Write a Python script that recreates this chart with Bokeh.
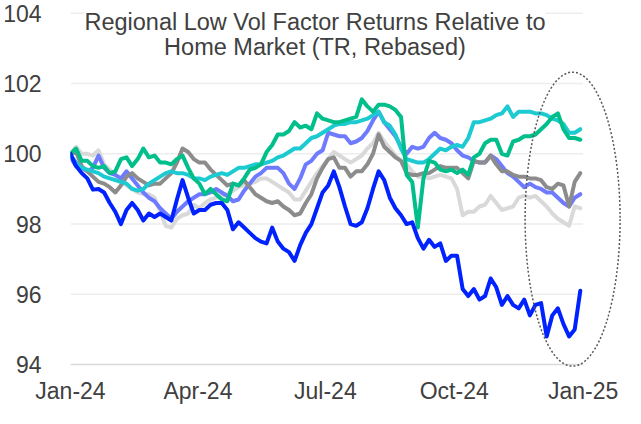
import pandas as pd
from bokeh.plotting import figure
from bokeh.models import (ColumnDataSource, FixedTicker, DatetimeTickFormatter,
                          Range1d, Label)
from bokeh.embed import file_html
from bokeh.resources import INLINE

# ---------------- data ----------------
DATES = pd.date_range("2024-01-01", periods=92, freq="4D")

DARK_BLUE = [100.0, 99.65, 99.45, 99.3, 98.98, 99.0, 98.9, 98.6, 98.35, 98.0,
             98.4, 98.6, 98.4, 98.1, 98.3, 98.2, 98.3, 98.2, 98.1, 98.7,
             99.25, 98.75, 98.3, 98.4, 98.4, 98.55, 98.6, 98.6, 98.4, 97.85,
             98.05, 97.9, 97.75, 97.6, 97.5, 97.45, 97.9, 97.5, 97.3, 97.2,
             96.95, 97.4, 97.75, 98.0, 98.45, 98.9, 99.1, 99.5, 99.05, 98.5,
             98.0, 97.95, 98.05, 98.45, 99.0, 99.5, 99.25, 98.75, 98.45, 98.25,
             98.0, 98.05, 97.6, 97.3, 97.55, 97.35, 97.45, 96.95, 97.1, 97.1,
             96.15, 95.95, 96.15, 95.85, 95.95, 96.45, 96.2, 95.7, 95.95, 95.7,
             95.6, 95.85, 95.4, 95.7, 95.75, 94.8, 95.4, 95.6, 95.15, 94.8,
             95.0, 96.1]

LIGHT_BLUE = [99.9, 99.65, 99.6, 99.5, 99.6, 99.95, 99.6, 99.45, 99.4, 99.3,
              99.5, 99.3, 99.1, 98.9, 98.75, 98.65, 98.45, 98.3, 98.15, 98.35,
              98.5, 98.65, 98.75, 98.85, 98.85, 98.9, 99.0, 98.9, 98.8, 98.65,
              98.7, 98.95, 99.15, 99.35, 99.45, 99.6, 99.6, 99.6, 99.45, 99.15,
              99.0, 99.3, 99.7, 99.8, 100.0, 100.1, 100.6, 100.55, 100.5, 100.5,
              100.3, 100.35, 100.45, 100.65, 100.95, 101.2, 100.9, 100.7, 100.5, 100.2,
              100.0, 100.2, 100.15, 100.2, 100.45, 100.6, 100.45, 100.4, 100.3, 100.1,
              99.95, 99.9, 99.8, 99.75, 99.75, 99.95, 99.85, 99.65, 99.45, 99.35,
              99.2, 99.05, 99.15, 99.05, 99.0, 98.9, 98.9, 98.75, 98.6, 98.5,
              98.75, 98.85]

GREY = [100.0, 100.05, 99.65, 99.5, 99.35, 99.2, 99.15, 99.05, 98.9, 99.1,
        99.35, 99.45, 99.3, 99.2, 99.1, 99.15, 99.15, 99.3, 99.45, 99.75,
        100.15, 100.05, 99.85, 99.75, 99.75, 99.55, 99.4, 99.25, 99.1, 99.15,
        99.1, 99.25, 99.05, 98.85, 98.75, 98.65, 98.6, 98.65, 98.5, 98.4,
        98.25, 98.3, 98.6, 98.85, 99.3, 99.6, 99.85, 99.9, 99.6, 99.6,
        99.35, 99.5, 99.5, 99.7, 100.0, 100.55, 100.2, 100.05, 99.9, 99.8,
        99.45, 99.4, 99.4, 99.45, 99.45, 99.55, 99.65, 99.6, 99.6, 99.6,
        99.45, 99.3, 99.8, 99.75, 99.75, 99.95, 99.7, 99.5, 99.5, 99.4,
        99.35, 99.35, 99.3, 99.3, 99.25, 99.05, 99.0, 99.15, 99.1, 98.5,
        99.2, 99.45]

LIGHT_GREY = [100.0, 100.2, 100.0, 100.0, 99.95, 100.1, 99.7, 99.55, 99.4, 99.2,
              99.1, 99.0, 98.9, 98.85, 98.85, 98.75, 98.35, 97.95, 97.9, 98.15,
              98.25, 98.3, 98.55, 98.45, 98.6, 98.7, 98.75, 98.8, 98.85, 98.95,
              99.05, 99.1, 99.15, 99.2, 99.3, 99.3, 99.2, 99.1, 99.0, 98.9,
              98.7, 98.7, 98.95, 99.2, 99.45, 99.65, 99.85, 100.05, 99.95, 99.85,
              99.75, 99.85, 99.95, 100.15, 100.3, 100.6, 100.35, 100.15, 99.95, 99.8,
              99.7, 99.5, 99.35, 99.35, 99.3, 99.35, 99.4, 99.35, 99.3, 99.0,
              98.25, 98.35, 98.35, 98.5, 98.55, 98.8, 98.6, 98.4, 98.45, 98.5,
              98.75, 98.8, 98.75, 98.8, 98.65, 98.5, 98.3, 98.15, 98.05, 97.95,
              98.5, 98.45]

GREEN = [100.0, 100.15, 99.8, 99.8, 99.65, 99.6, 99.65, 99.45, 99.5, 99.85,
         99.9, 99.65, 99.85, 100.15, 99.9, 99.95, 99.75, 99.75, 99.7, 99.85,
         99.95, 99.6, 99.3, 99.15, 98.85, 99.0, 98.85, 98.7, 98.65, 99.15,
         99.1, 99.3, 99.55, 99.6, 99.7, 100.05, 100.25, 100.55, 100.55, 100.65,
         100.9, 100.75, 100.8, 100.7, 101.15, 101.0, 100.95, 100.9, 100.9, 100.95,
         101.0, 101.05, 101.55, 101.35, 101.2, 101.4, 101.4, 101.35, 101.25, 101.05,
         99.4, 99.2, 97.9, 99.3, 99.8, 99.75, 99.55, 99.5, 99.55, 99.45,
         99.55, 99.4, 99.9, 100.0, 100.3, 100.4, 100.4, 100.0, 99.95, 100.35,
         100.4, 100.5, 100.5, 100.55, 100.7, 100.85, 101.05, 101.15, 100.7, 100.45,
         100.45, 100.4]

CYAN = [99.95, 99.75, 99.6, 99.55, 99.5, 99.45, 99.35, 99.3, 99.25, 99.2,
        99.15, 99.0, 98.95, 99.0, 99.15, 99.25, 99.35, 99.45, 99.5, 99.45,
        99.45, 99.4, 99.3, 99.3, 99.25, 99.35, 99.4, 99.45, 99.4, 99.5,
        99.6, 99.6, 99.65, 99.7, 99.7, 99.75, 99.8, 99.9, 99.95, 100.05,
        100.15, 100.15, 100.3, 100.45, 100.5, 100.6, 100.7, 100.8, 100.85, 100.85,
        100.9, 100.9, 100.95, 101.0, 101.1, 101.2, 100.9, 100.8, 100.55, 100.15,
        99.85, 99.8, 99.75, 99.75, 99.85, 100.0, 100.15, 100.1, 100.2, 100.25,
        100.2, 100.45, 100.9, 100.9, 100.95, 101.0, 101.1, 101.15, 101.35, 101.05,
        101.2, 101.2, 101.2, 101.15, 101.15, 101.1, 101.0, 100.95, 100.85, 100.6,
        100.6, 100.7]

# drawing order: first is drawn at the bottom
SERIES = [
    ("light_grey", LIGHT_GREY, "#D9D9D9"),
    ("light_blue", LIGHT_BLUE, "#6E7BFF"),
    ("grey", GREY, "#8C8C8C"),
    ("cyan", CYAN, "#1CCAD2"),
    ("green", GREEN, "#00BF8A"),
    ("dark_blue", DARK_BLUE, "#0022FF"),
]

Y_TICKS = [94, 96, 98, 100, 102, 104]
X_TICK_DATES = ["2024-01-01", "2024-04-01", "2024-07-01", "2024-10-01", "2025-01-01"]
TITLE_LINES = ["Regional Low Vol Factor Returns Relative to",
               "Home Market (TR, Rebased)"]

# ---------------- styling / layout ----------------
FONT = "Liberation Sans"
TEXT_COLOR = "#404040"

x_start = pd.Timestamp("2024-01-01")
x_end = x_start + pd.Timedelta(days=395.56)

p = figure(width=624, height=406, output_backend="svg", toolbar_location=None,
           x_axis_type="datetime",
           x_range=Range1d(x_start, x_end),
           y_range=Range1d(93.916, 104.251),
           min_border_left=62, min_border_right=0, min_border_top=4,
           min_border_bottom=31)
p.outline_line_color = None
p.xgrid.visible = False
p.ygrid.visible = False

# gridlines (end at Jan-25)
grid_src = ColumnDataSource(dict(
    x0=[pd.Timestamp(X_TICK_DATES[0])] * len(Y_TICKS),
    x1=[pd.Timestamp(X_TICK_DATES[-1])] * len(Y_TICKS),
    y=Y_TICKS,
    color=["#D9D9D9" if v == Y_TICKS[0] else "#EDEDED" for v in Y_TICKS]))
p.segment(x0="x0", x1="x1", y0="y", y1="y", color="color", line_width=1.5,
          source=grid_src)

for name, vals, col in SERIES:
    src = ColumnDataSource(dict(x=DATES, y=vals))
    p.line("x", "y", source=src, line_color=col, line_width=4,
           line_join="round", line_cap="round")

# dotted ellipse highlighting the last weeks
ELLIPSE_CENTER_X = pd.Timestamp("2024-12-24 12:00")
ELLIPSE_CENTER_Y = 98.14
p.ellipse(x=[ELLIPSE_CENTER_X], y=[ELLIPSE_CENTER_Y], width=95, height=294,
          width_units="screen", height_units="screen",
          fill_color=None, line_color="#595959", line_width=1.5, line_dash="2 2")

# axes
p.yaxis.ticker = FixedTicker(ticks=Y_TICKS)
p.yaxis.axis_line_color = None
p.yaxis.major_tick_line_color = None
p.yaxis.minor_tick_line_color = None
p.yaxis.major_label_standoff = 23
p.yaxis.major_label_text_font = FONT
p.yaxis.major_label_text_font_size = "23px"
p.yaxis.major_label_text_color = TEXT_COLOR

x_ticks_ms = [pd.Timestamp(d).value / 1e6 for d in X_TICK_DATES]
p.xaxis.ticker = FixedTicker(ticks=x_ticks_ms)
fmt = "%b-%y"
p.xaxis.formatter = DatetimeTickFormatter(
    microseconds=fmt, milliseconds=fmt, seconds=fmt, minsec=fmt, minutes=fmt,
    hourmin=fmt, hours=fmt, days=fmt, months=fmt, years=fmt)
p.xaxis.axis_line_color = None
p.xaxis.major_tick_line_color = None
p.xaxis.minor_tick_line_color = None
p.xaxis.major_label_standoff = 4
p.xaxis.major_label_text_font = FONT
p.xaxis.major_label_text_font_size = "23px"
p.xaxis.major_label_text_color = TEXT_COLOR

# title (two lines, inside the plot area)
TITLE_X = pd.Timestamp("2024-06-23 13:00")
for txt, yb in zip(TITLE_LINES, [103.763, 103.05]):
    p.add_layout(Label(x=TITLE_X, y=yb, text=txt, text_align="center",
                       text_baseline="alphabetic", text_font=FONT,
                       text_font_size="23.5px", text_color=TEXT_COLOR,
                       background_fill_color="white"))

open("out.html", "w").write(file_html(p, INLINE))
